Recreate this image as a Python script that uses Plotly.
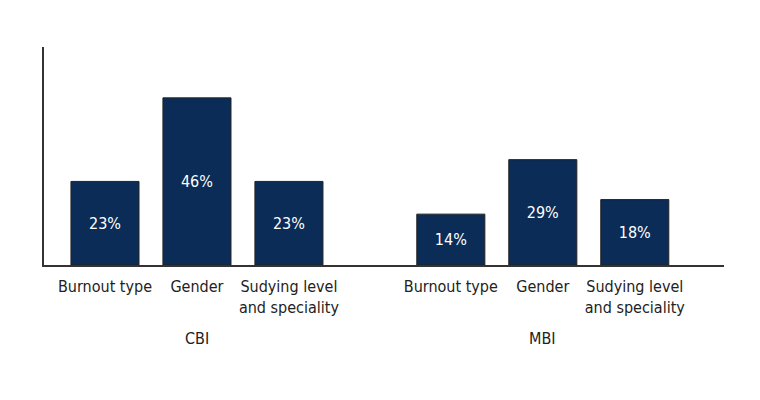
import plotly.graph_objects as go

categories = ["Burnout type", "Gender", "Sudying level<br>and speciality"]
groups = ["CBI", "MBI"]
cbi_values = [23, 46, 23]
mbi_values = [14, 29, 18]

cbi_x = [0, 1, 2]
mbi_x = [3.76, 4.76, 5.76]

xs = cbi_x + mbi_x
vals = cbi_values + mbi_values
labels = [f"{v}%" for v in vals]

FONT = "DejaVu Sans Condensed, Liberation Sans Narrow, sans-serif"

fig = go.Figure(go.Bar(
    x=xs, y=vals, width=0.74,
    marker=dict(color="#0a2c57", line=dict(color="#222222", width=1)),
    text=labels, textposition="inside", insidetextanchor="middle",
    textfont=dict(color="white", size=16, family=FONT),
    cliponaxis=False, hoverinfo="skip",
))

fig.update_layout(
    width=760, height=400,
    margin=dict(l=36, r=44, t=39, b=143),
    paper_bgcolor="white", plot_bgcolor="white",
    showlegend=False,
    font=dict(family=FONT, size=16, color="#222222"),
    xaxis=dict(
        range=[-0.663, 6.73], tickvals=xs, ticktext=categories * 2,
        showline=True, linecolor="#333333", linewidth=1.5,
        showgrid=False, zeroline=False, ticks="", ticklabelstandoff=6,
        tickfont=dict(size=16, color="#222222"),
    ),
    yaxis=dict(
        range=[0, 60], showline=True, linecolor="#333333", linewidth=1.5,
        showgrid=False, zeroline=False, showticklabels=False, ticks="",
    ),
)

for gx, g in zip([cbi_x[1], mbi_x[1]], groups):
    fig.add_annotation(x=gx, xref="x", y=0, yref="paper", yanchor="middle",
                       yshift=-73, text=g, showarrow=False,
                       font=dict(size=16, color="#222222"))

fig.write_html("out.html")
